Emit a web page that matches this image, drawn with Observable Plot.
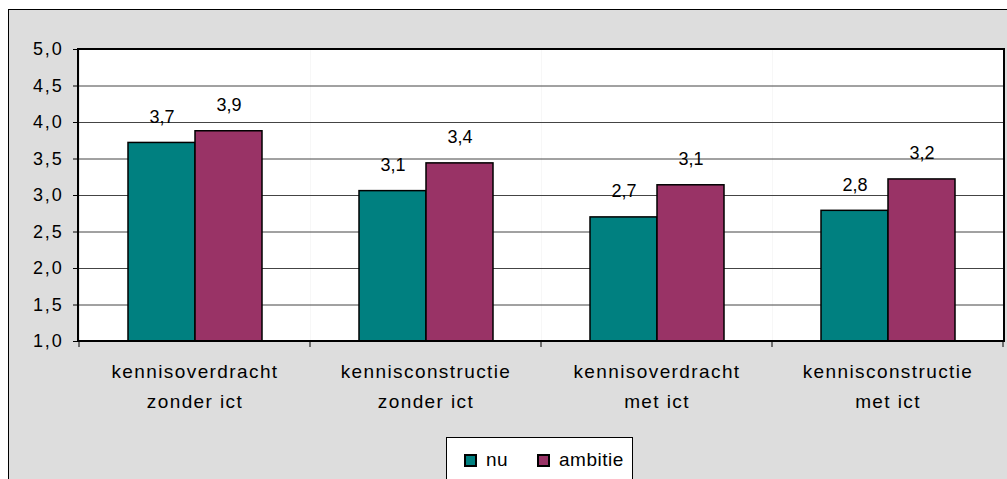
<!DOCTYPE html>
<html>
<head>
<meta charset="utf-8">
<script src="https://cdn.jsdelivr.net/npm/d3@7"></script>
<script src="https://cdn.jsdelivr.net/npm/@observablehq/plot@0.6"></script>
<style>
  html, body { margin: 0; padding: 0; width: 1007px; height: 479px; overflow: hidden; background: #ffffff; }
  #panel { position: absolute; left: 8px; top: 9px; width: 1010px; height: 480px; background: #dddddd; border-top: 1px solid #000; border-left: 1px solid #000; }
  #chart { position: absolute; left: 0; top: 0; }
  #legend { position: absolute; left: 446px; top: 437px; width: 187px; height: 50px; background: #ffffff; border: 1px solid #000; box-sizing: border-box;
            font-family: "Liberation Sans", Arial, sans-serif; font-size: 19px; letter-spacing: 0.5px; color: #000; }
  .item { position: absolute; top: 11px; display: flex; align-items: center; }
  .sw { width: 13px; height: 13px; box-sizing: border-box; border: 2px solid #000; margin-right: 9px; }
</style>
</head>
<body>
<div id="panel"></div>
<div id="chart"></div>
<div id="legend"></div>
<script>
const categories = [
  "kennisoverdracht\nzonder ict",
  "kennisconstructie\nzonder ict",
  "kennisoverdracht\nmet ict",
  "kennisconstructie\nmet ict"
];
const series = ["nu", "ambitie"];
const nuValues = [3.72, 3.06, 2.70, 2.79];
const ambitieValues = [3.88, 3.44, 3.14, 3.22];
const seriesColors = ["#008080", "#993366"];
const yTicks = [1.0, 1.5, 2.0, 2.5, 3.0, 3.5, 4.0, 4.5, 5.0];

const data = [];
categories.forEach((c, i) => {
  data.push({category: c, series: "nu", value: nuValues[i]});
  data.push({category: c, series: "ambitie", value: ambitieValues[i]});
});

const fmt = d => d.toFixed(1).replace(".", ",");
const W = 1007, H = 430;
const mL = 78, mR = 3, mT = 49, mB = 89;

const font = "Liberation Sans, Arial, sans-serif";

const plot = Plot.plot({
  width: W,
  height: H,
  marginLeft: mL,
  marginRight: mR,
  marginTop: mT,
  marginBottom: mB,
  style: {fontFamily: font, fontSize: "17px", background: "transparent", color: "#000", overflow: "visible"},
  fx: {domain: categories, padding: 0},
  x: {domain: series, paddingInner: 0, paddingOuter: 0.715, axis: null},
  y: {domain: [yTicks[0], yTicks[yTicks.length - 1]]},
  color: {domain: series, range: seriesColors},
  marks: [
    Plot.frame({fill: "white", stroke: "none"}),
    Plot.gridY(yTicks, {stroke: "#444", strokeOpacity: 1, strokeWidth: 1}),
    Plot.barY(data, {fx: "category", x: "series", y1: yTicks[0], y2: "value", fill: "series", stroke: "#000", strokeWidth: 1.5}),
    Plot.text(data, {fx: "category", x: "series", y: "value", text: d => fmt(d.value), dy: -26, lineAnchor: "middle", fontSize: 18, fill: "#000", ariaLabel: "value-labels"}),
    Plot.axisY({ticks: yTicks, tickFormat: fmt, tickSize: 6, tickPadding: 10, fontSize: 18, stroke: "#000", fill: "#000", label: null}),
    Plot.axisFx({anchor: "bottom", tickSize: 0, tickPadding: 16, lineHeight: 1.55, fontSize: 19, fill: "#000", label: null})
  ]
});

// letter spacing per text group (typographic style only)
const svg = d3.select(plot);
svg.selectAll('g[aria-label="y-axis tick label"]').style("letter-spacing", "1.8px");
svg.selectAll('g[aria-label="fx-axis tick label"]').style("letter-spacing", "1.4px");

// plot-area border and category boundary ticks, placed with the fx scale
const fx = plot.scale("fx");
const step = fx.step !== undefined ? fx.step : (W - mL - mR) / categories.length;
const g = svg.append("g").attr("fill", "none").attr("stroke", "#000");
const boundaries = categories.map(c => fx.apply(c)).concat([fx.apply(categories[categories.length - 1]) + step]);
boundaries.forEach(x => {
  g.append("line").attr("x1", x).attr("x2", x).attr("y1", H - mB).attr("y2", H - mB + 6).attr("stroke-width", 1);
});
g.append("rect").attr("x", mL).attr("y", mT).attr("width", W - mL - mR).attr("height", H - mT - mB).attr("stroke-width", 2);

document.getElementById("chart").appendChild(plot);

// legend
const legend = document.getElementById("legend");
const lx = [17, 90];
series.forEach((s, i) => {
  const it = document.createElement("div");
  it.className = "item";
  it.style.left = lx[i] + "px";
  const sw = document.createElement("div");
  sw.className = "sw";
  sw.style.background = seriesColors[i];
  const t = document.createElement("span");
  t.textContent = s;
  it.appendChild(sw);
  it.appendChild(t);
  legend.appendChild(it);
});
</script>
</body>
</html>
